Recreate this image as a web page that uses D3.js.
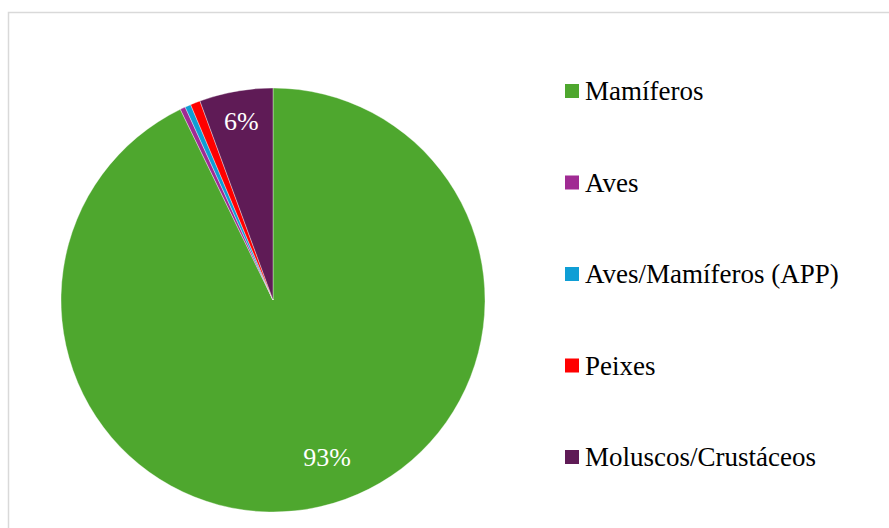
<!DOCTYPE html>
<html>
<head>
<meta charset="utf-8">
<script src="https://cdn.jsdelivr.net/npm/d3@7"></script>
<style>
  html, body { margin: 0; padding: 0; background: #ffffff; }
  svg { display: block; }
</style>
</head>
<body>
<svg id="chart" width="889" height="528"></svg>
<script>
// Group names, shares (%) and slice colours
const categories = ["Mamíferos", "Aves", "Aves/Mamíferos (APP)", "Peixes", "Moluscos/Crustáceos"];
const shares = [92.8, 0.4, 0.45, 0.75, 5.6];
const colors = ["#4ea72e", "#a02b93", "#0f9ed5", "#ff0000", "#5f1b56"];

const serif = "Times New Roman, Liberation Serif, Tinos, Times, Noto Serif, DejaVu Serif, serif";

const svg = d3.select("#chart");

// Chart frame
svg.append("rect")
  .attr("x", 8.5).attr("y", 12.5)
  .attr("width", 1000).attr("height", 1000)
  .attr("fill", "#ffffff")
  .attr("stroke", "#d9d9d9")
  .attr("stroke-width", 1.5);

const cx = 273, cy = 300, R = 212;
const data = categories.map((c, i) => ({ name: c, value: shares[i], color: colors[i] }));

const pie = d3.pie().sort(null).value(d => d.value).startAngle(0).endAngle(2 * Math.PI);
const arcs = pie(data);
const arc = d3.arc().innerRadius(0).outerRadius(R);

const g = svg.append("g").attr("transform", `translate(${cx},${cy})`);

g.selectAll("path.slice")
  .data(arcs)
  .join("path")
  .attr("class", "slice")
  .attr("d", arc)
  .attr("fill", d => d.data.color)
  .attr("stroke", "#ffffff")
  .attr("stroke-width", 0.6)
  .attr("stroke-opacity", 0.6);

// Percentage labels: radius as a fraction of R; on the large slice the
// angle is pulled slightly back from the bisector
const labelPlace = d => {
  const mid = (d.startAngle + d.endAngle) / 2;
  return d.data.value > 50
    ? { r: 0.783, t: mid - 0.018 * (d.endAngle - d.startAngle) }
    : { r: 0.856, t: mid };
};

const fmt = d3.format(".0f");
g.selectAll("text.pct")
  .data(arcs.filter(d => d.data.value >= 5))
  .join("text")
  .attr("class", "pct")
  .attr("transform", d => {
    const p = labelPlace(d);
    const r = R * p.r;
    return `translate(${r * Math.sin(p.t)},${-r * Math.cos(p.t)})`;
  })
  .attr("text-anchor", "middle")
  .attr("dy", "0.35em")
  .attr("fill", "#ffffff")
  .attr("font-family", serif)
  .attr("font-size", 26)
  .text(d => fmt(d.data.value) + "%");

// Legend
const legend = svg.append("g");
const rowY = d3.scalePoint().domain(categories).range([84, 450]);
const item = legend.selectAll("g.item")
  .data(data)
  .join("g")
  .attr("class", "item")
  .attr("transform", d => `translate(565,${rowY(d.name)})`);

item.append("rect")
  .attr("width", 14).attr("height", 14)
  .attr("fill", d => d.color);

item.append("text")
  .attr("x", 20).attr("y", 16)
  .attr("fill", "#000000")
  .attr("font-family", serif)
  .attr("font-size", 27)
  .text(d => d.name);
</script>
</body>
</html>
